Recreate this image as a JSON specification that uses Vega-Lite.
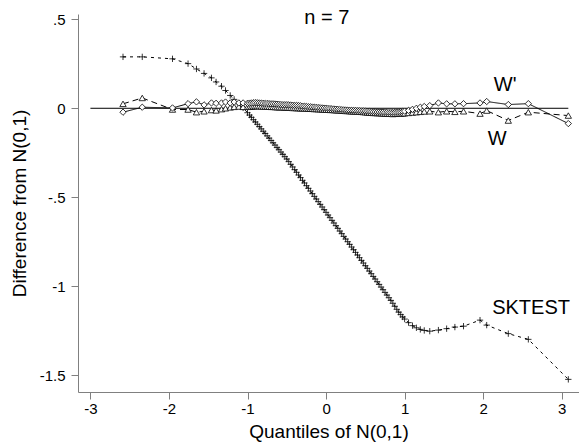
{
  "$schema": "https://vega.github.io/schema/vega-lite/v6.json",
  "width": 501,
  "height": 378,
  "autosize": {"type": "none"},
  "padding": {"left": 78, "top": 14, "right": 0, "bottom": 52},
  "background": "white",
  "config": {
    "view": {"stroke": null},
    "font": "Liberation Sans",
    "axis": {
      "grid": false,
      "domainColor": "#808080",
      "tickColor": "#808080",
      "tickSize": 7,
      "labelColor": "black",
      "titleColor": "black",
      "labelFont": "Liberation Sans",
      "titleFont": "Liberation Sans",
      "labelFontSize": 15,
      "titleFontSize": 19,
      "titleFontWeight": "normal"
    }
  },
  "datasets": {
    "q": [
      {"x": -2.585, "SKTEST": 0.289, "W": 0.025, "Wp": -0.022},
      {"x": -2.34, "SKTEST": 0.289, "W": 0.058, "Wp": 0.006},
      {"x": -1.955, "SKTEST": 0.278, "W": -0.007, "Wp": 0.002},
      {"x": -1.757, "SKTEST": 0.251, "W": -0.007, "Wp": 0.026},
      {"x": -1.65, "SKTEST": 0.221, "W": -0.022, "Wp": 0.036},
      {"x": -1.553, "SKTEST": 0.196, "W": -0.017, "Wp": 0.019},
      {"x": -1.459, "SKTEST": 0.171, "W": -0.01, "Wp": 0.03},
      {"x": -1.4, "SKTEST": 0.148, "W": -0.012, "Wp": 0.028},
      {"x": -1.331, "SKTEST": 0.124, "W": -0.005, "Wp": 0.03},
      {"x": -1.28, "SKTEST": 0.1, "W": 0.0, "Wp": 0.035},
      {"x": -1.22, "SKTEST": 0.072, "W": 0.005, "Wp": 0.03},
      {"x": -1.17, "SKTEST": 0.05, "W": 0.008, "Wp": 0.035},
      {"x": -1.11, "SKTEST": 0.025, "W": 0.01, "Wp": 0.03},
      {"x": -1.056, "SKTEST": 0.002, "W": 0.008, "Wp": 0.03},
      {"x": -1.0, "SKTEST": -0.025, "W": 0.008, "Wp": 0.028},
      {"x": -0.975, "SKTEST": -0.038, "W": 0.009, "Wp": 0.029},
      {"x": -0.95, "SKTEST": -0.051, "W": 0.01, "Wp": 0.03},
      {"x": -0.925, "SKTEST": -0.064, "W": 0.011, "Wp": 0.031},
      {"x": -0.9, "SKTEST": -0.077, "W": 0.012, "Wp": 0.032},
      {"x": -0.875, "SKTEST": -0.09, "W": 0.012, "Wp": 0.031},
      {"x": -0.85, "SKTEST": -0.103, "W": 0.012, "Wp": 0.03},
      {"x": -0.825, "SKTEST": -0.116, "W": 0.011, "Wp": 0.029},
      {"x": -0.8, "SKTEST": -0.129, "W": 0.01, "Wp": 0.028},
      {"x": -0.775, "SKTEST": -0.142, "W": 0.01, "Wp": 0.027},
      {"x": -0.75, "SKTEST": -0.155, "W": 0.01, "Wp": 0.027},
      {"x": -0.725, "SKTEST": -0.168, "W": 0.009, "Wp": 0.026},
      {"x": -0.7, "SKTEST": -0.181, "W": 0.008, "Wp": 0.025},
      {"x": -0.675, "SKTEST": -0.194, "W": 0.008, "Wp": 0.025},
      {"x": -0.65, "SKTEST": -0.207, "W": 0.007, "Wp": 0.024},
      {"x": -0.625, "SKTEST": -0.22, "W": 0.006, "Wp": 0.023},
      {"x": -0.6, "SKTEST": -0.233, "W": 0.006, "Wp": 0.022},
      {"x": -0.575, "SKTEST": -0.246, "W": 0.005, "Wp": 0.021},
      {"x": -0.55, "SKTEST": -0.259, "W": 0.005, "Wp": 0.02},
      {"x": -0.525, "SKTEST": -0.272, "W": 0.004, "Wp": 0.02},
      {"x": -0.5, "SKTEST": -0.285, "W": 0.004, "Wp": 0.02},
      {"x": -0.475, "SKTEST": -0.3, "W": 0.003, "Wp": 0.019},
      {"x": -0.45, "SKTEST": -0.315, "W": 0.003, "Wp": 0.018},
      {"x": -0.425, "SKTEST": -0.33, "W": 0.002, "Wp": 0.017},
      {"x": -0.4, "SKTEST": -0.345, "W": 0.002, "Wp": 0.016},
      {"x": -0.375, "SKTEST": -0.36, "W": 0.001, "Wp": 0.016},
      {"x": -0.35, "SKTEST": -0.375, "W": 0.001, "Wp": 0.015},
      {"x": -0.325, "SKTEST": -0.39, "W": 0.0, "Wp": 0.014},
      {"x": -0.3, "SKTEST": -0.405, "W": 0.0, "Wp": 0.012},
      {"x": -0.275, "SKTEST": -0.42, "W": -0.001, "Wp": 0.011},
      {"x": -0.25, "SKTEST": -0.435, "W": -0.001, "Wp": 0.01},
      {"x": -0.225, "SKTEST": -0.45, "W": -0.002, "Wp": 0.009},
      {"x": -0.2, "SKTEST": -0.465, "W": -0.002, "Wp": 0.008},
      {"x": -0.175, "SKTEST": -0.48, "W": -0.003, "Wp": 0.007},
      {"x": -0.15, "SKTEST": -0.495, "W": -0.004, "Wp": 0.006},
      {"x": -0.125, "SKTEST": -0.51, "W": -0.004, "Wp": 0.005},
      {"x": -0.1, "SKTEST": -0.525, "W": -0.005, "Wp": 0.004},
      {"x": -0.075, "SKTEST": -0.54, "W": -0.005, "Wp": 0.003},
      {"x": -0.05, "SKTEST": -0.555, "W": -0.006, "Wp": 0.002},
      {"x": -0.025, "SKTEST": -0.57, "W": -0.007, "Wp": 0.001},
      {"x": 0.0, "SKTEST": -0.585, "W": -0.008, "Wp": 0.0},
      {"x": 0.025, "SKTEST": -0.6, "W": -0.008, "Wp": -0.001},
      {"x": 0.05, "SKTEST": -0.615, "W": -0.009, "Wp": -0.002},
      {"x": 0.075, "SKTEST": -0.63, "W": -0.009, "Wp": -0.003},
      {"x": 0.1, "SKTEST": -0.645, "W": -0.01, "Wp": -0.004},
      {"x": 0.125, "SKTEST": -0.66, "W": -0.011, "Wp": -0.005},
      {"x": 0.15, "SKTEST": -0.675, "W": -0.012, "Wp": -0.006},
      {"x": 0.175, "SKTEST": -0.69, "W": -0.012, "Wp": -0.007},
      {"x": 0.2, "SKTEST": -0.705, "W": -0.013, "Wp": -0.008},
      {"x": 0.225, "SKTEST": -0.72, "W": -0.014, "Wp": -0.009},
      {"x": 0.25, "SKTEST": -0.735, "W": -0.015, "Wp": -0.01},
      {"x": 0.275, "SKTEST": -0.75, "W": -0.015, "Wp": -0.011},
      {"x": 0.3, "SKTEST": -0.765, "W": -0.016, "Wp": -0.012},
      {"x": 0.325, "SKTEST": -0.78, "W": -0.017, "Wp": -0.012},
      {"x": 0.35, "SKTEST": -0.795, "W": -0.018, "Wp": -0.013},
      {"x": 0.375, "SKTEST": -0.81, "W": -0.018, "Wp": -0.013},
      {"x": 0.4, "SKTEST": -0.825, "W": -0.019, "Wp": -0.014},
      {"x": 0.425, "SKTEST": -0.84, "W": -0.019, "Wp": -0.014},
      {"x": 0.45, "SKTEST": -0.855, "W": -0.02, "Wp": -0.015},
      {"x": 0.475, "SKTEST": -0.87, "W": -0.021, "Wp": -0.015},
      {"x": 0.5, "SKTEST": -0.885, "W": -0.022, "Wp": -0.016},
      {"x": 0.525, "SKTEST": -0.9, "W": -0.023, "Wp": -0.017},
      {"x": 0.55, "SKTEST": -0.915, "W": -0.024, "Wp": -0.018},
      {"x": 0.575, "SKTEST": -0.93, "W": -0.025, "Wp": -0.019},
      {"x": 0.6, "SKTEST": -0.945, "W": -0.026, "Wp": -0.02},
      {"x": 0.625, "SKTEST": -0.96, "W": -0.026, "Wp": -0.02},
      {"x": 0.65, "SKTEST": -0.975, "W": -0.027, "Wp": -0.021},
      {"x": 0.675, "SKTEST": -0.99, "W": -0.027, "Wp": -0.021},
      {"x": 0.7, "SKTEST": -1.005, "W": -0.028, "Wp": -0.022},
      {"x": 0.725, "SKTEST": -1.02, "W": -0.029, "Wp": -0.022},
      {"x": 0.75, "SKTEST": -1.035, "W": -0.03, "Wp": -0.023},
      {"x": 0.775, "SKTEST": -1.05, "W": -0.03, "Wp": -0.023},
      {"x": 0.8, "SKTEST": -1.065, "W": -0.031, "Wp": -0.024},
      {"x": 0.825, "SKTEST": -1.08, "W": -0.031, "Wp": -0.024},
      {"x": 0.85, "SKTEST": -1.096, "W": -0.032, "Wp": -0.024},
      {"x": 0.875, "SKTEST": -1.113, "W": -0.031, "Wp": -0.023},
      {"x": 0.9, "SKTEST": -1.13, "W": -0.031, "Wp": -0.022},
      {"x": 0.925, "SKTEST": -1.146, "W": -0.03, "Wp": -0.021},
      {"x": 0.95, "SKTEST": -1.16, "W": -0.03, "Wp": -0.02},
      {"x": 0.975, "SKTEST": -1.173, "W": -0.029, "Wp": -0.018},
      {"x": 1.0, "SKTEST": -1.185, "W": -0.028, "Wp": -0.016},
      {"x": 1.05, "SKTEST": -1.205, "W": -0.026, "Wp": -0.012},
      {"x": 1.1, "SKTEST": -1.222, "W": -0.024, "Wp": -0.006},
      {"x": 1.15, "SKTEST": -1.234, "W": -0.022, "Wp": 0.0},
      {"x": 1.2, "SKTEST": -1.243, "W": -0.02, "Wp": 0.006},
      {"x": 1.25, "SKTEST": -1.249, "W": -0.018, "Wp": 0.01},
      {"x": 1.32, "SKTEST": -1.253, "W": -0.017, "Wp": 0.015},
      {"x": 1.43, "SKTEST": -1.247, "W": -0.022, "Wp": 0.03},
      {"x": 1.535, "SKTEST": -1.239, "W": -0.017, "Wp": 0.025},
      {"x": 1.64, "SKTEST": -1.23, "W": -0.02, "Wp": 0.025},
      {"x": 1.75, "SKTEST": -1.225, "W": -0.017, "Wp": 0.026},
      {"x": 1.96, "SKTEST": -1.191, "W": -0.03, "Wp": 0.03},
      {"x": 2.045, "SKTEST": -1.219, "W": -0.013, "Wp": 0.038},
      {"x": 2.32, "SKTEST": -1.267, "W": -0.069, "Wp": 0.021},
      {"x": 2.575, "SKTEST": -1.299, "W": -0.022, "Wp": 0.026},
      {"x": 3.084, "SKTEST": -1.524, "W": -0.041, "Wp": -0.086}
    ],
    "labels": [
      {"x": 0.01, "y": 0.51, "t": "n = 7"},
      {"x": 2.28, "y": 0.133, "t": "W'"},
      {"x": 2.18, "y": -0.17, "t": "W"},
      {"x": 2.61, "y": -1.12, "t": "SKTEST"}
    ]
  },
  "encoding": {
    "x": {
      "field": "x",
      "type": "quantitative",
      "scale": {"domain": [-3.158, 3.22], "nice": false, "zero": false},
      "axis": {
        "values": [-3, -2, -1, 0, 1, 2, 3],
        "labelExpr": "'' + datum.value",
        "labelPadding": 2,
        "title": "Quantiles of N(0,1)",
        "titlePadding": 6
      }
    },
    "y": {
      "field": "y",
      "type": "quantitative",
      "scale": {"domain": [-1.595, 0.53], "nice": false, "zero": false},
      "axis": {
        "values": [0.5, 0, -0.5, -1, -1.5],
        "labelExpr": "replace('' + datum.value, '0.', '.')",
        "labelPadding": 6,
        "title": "Difference from N(0,1)",
        "titlePadding": 10
      }
    }
  },
  "layer": [
    {
      "data": {"values": [{"x": -3, "x2": 3.084, "y": 0}]},
      "mark": {"type": "rule", "color": "black", "strokeWidth": 1},
      "encoding": {"x2": {"field": "x2"}}
    },
    {
      "data": {"name": "q"},
      "transform": [{"fold": ["SKTEST", "W", "Wp"], "as": ["series", "y"]}],
      "layer": [
        {
          "mark": {"type": "line", "color": "black", "strokeWidth": 1},
          "encoding": {
            "strokeDash": {
              "field": "series",
              "type": "nominal",
              "scale": {"domain": ["SKTEST", "W", "Wp"], "range": [[3, 4], [6, 4], [1, 0]]},
              "legend": null
            }
          }
        },
        {
          "mark": {"type": "point", "filled": true, "fill": "white", "stroke": "black", "strokeWidth": 0.8, "opacity": 1},
          "encoding": {
            "shape": {
              "field": "series",
              "type": "nominal",
              "scale": {"domain": ["SKTEST", "W", "Wp"], "range": ["M-1,0L1,0M0,-1L0,1", "triangle-up", "diamond"]},
              "legend": null
            },
            "size": {
              "field": "series",
              "type": "nominal",
              "scale": {"domain": ["SKTEST", "W", "Wp"], "range": [40, 40, 16]},
              "legend": null
            }
          }
        }
      ]
    },
    {
      "data": {"name": "labels"},
      "mark": {"type": "text", "fontSize": 20, "font": "Liberation Sans", "color": "black", "align": "center", "baseline": "middle"},
      "encoding": {"text": {"field": "t", "type": "nominal"}}
    }
  ]
}
